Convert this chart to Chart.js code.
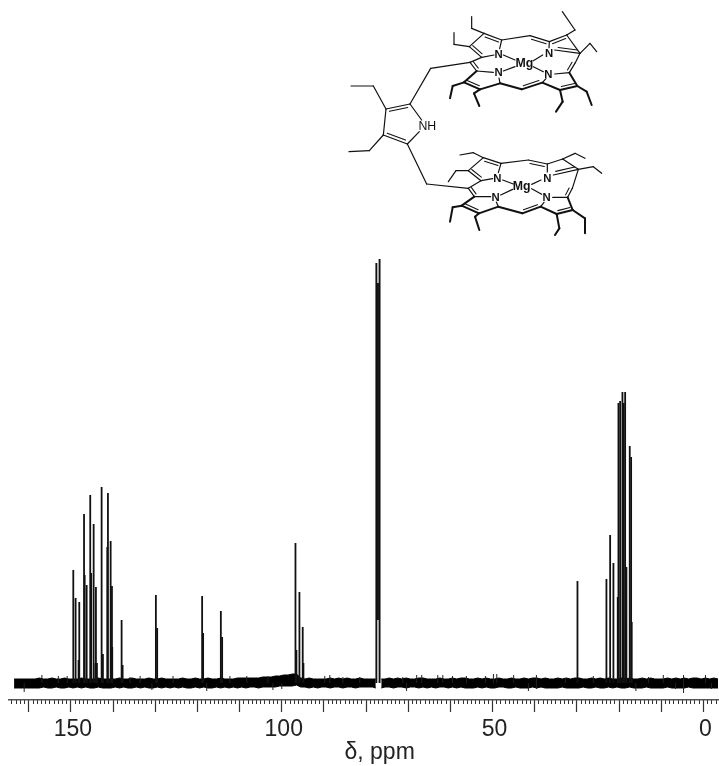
<!DOCTYPE html>
<html>
<head>
<meta charset="utf-8">
<title>13C NMR spectrum</title>
<script src="https://cdn.jsdelivr.net/npm/chart.js@4"></script>
<style>
    body { margin: 0; background: #fff; }
    #wrap { position: relative; width: 719px; height: 766px; overflow: hidden; }
    #spectrum { position: absolute; left: 0; top: 0; filter: blur(0.35px); }
    #molecule { position: absolute; left: 340px; top: 0; pointer-events: none; filter: blur(0.35px); }
    #molecule text { font-family: 'Liberation Sans', sans-serif; fill: #111; text-anchor: middle; dominant-baseline: central; }
</style>
</head>
<body>
<div id="wrap">
    <canvas id="spectrum" width="719" height="766"></canvas>
    <svg id="molecule" width="279" height="245" viewBox="0 0 837 735"></svg>
</div>
<script>
// Axis
const axisLabels = [150, 100, 50, 0];

// Peaks, ppm and height
const peakPpm = [
    149.45, 148.9, 148.2, 148.03, 146.9, 146.75, 146.28, 145.43, 145.2, 144.62, 144.2, 144.08, 143.84,
    142.73, 142.42, 141.39, 141.23, 140.59, 140.28, 140.21, 137.99, 137.75,
    129.86, 129.55, 118.89, 118.65, 114.45, 114.14,
    96.75, 96.52, 95.81, 95.03, 94.86,
    29.86, 22.99, 22.11, 21.33, 20.31, 20.14, 19.74, 19.19, 18.89, 18.55, 18.25, 17.46, 17.13, 16.99
];
const peakHeight = [
    113, 85, 23, 81, 169, 108, 98, 188, 110, 159, 20, 96, 20,
    196, 29, 136, 190, 142, 97, 36, 63, 18,
    88, 55, 87, 50, 72, 46,
    140, 33, 91, 56, 20,
    102, 104, 148, 120, 86, 280, 282, 291, 280, 291, 116, 237, 226, 61
];

// CDCl3 triplet, the middle line does not reach the baseline
const solventPpm = [77.56, 77.18, 76.8];
const solventFloor = [0, 63, 0];
const solventTop = [420, 400, 424];

// Baseline noise envelope
const noisePpm = [
    163.5, 162.5, 161.5, 160.5,
    159.5, 158.5, 157.5, 156.5, 155.5, 154.5, 153.5, 152.5, 151.5, 150.5,
    149.5, 148.5, 147.5, 146.5, 145.5, 144.5, 143.5, 142.5, 141.5, 140.5,
    139.5, 138.5, 137.5, 136.5, 135.5, 134.5, 133.5, 132.5, 131.5, 130.5,
    129.5, 128.5, 127.5, 126.5, 125.5, 124.5, 123.5, 122.5, 121.5, 120.5,
    119.5, 118.5, 117.5, 116.5, 115.5, 114.5, 113.5, 112.5, 111.5, 110.5,
    109.5, 108.5, 107.5, 106.5, 105.5, 104.5, 103.5, 102.5, 101.5, 100.5,
    99.5, 98.5, 97.5, 96.5, 95.5, 94.5, 93.5, 92.5, 91.5, 90.5,
    89.5, 88.5, 87.5, 86.5, 85.5, 84.5, 83.5, 82.5, 81.5, 80.5,
    79.5, 78.5, 77.7, 77.1, 76.4, 75.5, 74.5, 73.5, 72.5, 71.5, 70.5,
    69.5, 68.5, 67.5, 66.5, 65.5, 64.5, 63.5, 62.5, 61.5, 60.5,
    59.5, 58.5, 57.5, 56.5, 55.5, 54.5, 53.5, 52.5, 51.5, 50.5,
    49.5, 48.5, 47.5, 46.5, 45.5, 44.5, 43.5, 42.5, 41.5, 40.5,
    39.5, 38.5, 37.5, 36.5, 35.5, 34.5, 33.5, 32.5, 31.5, 30.5,
    29.5, 28.5, 27.5, 26.5, 25.5, 24.5, 23.5, 22.5, 21.5, 20.5,
    19.5, 18.5, 17.5, 16.5, 15.5, 14.5, 13.5, 12.5, 11.5, 10.5,
    9.5, 8.5, 7.5, 6.5, 5.5, 4.5, 3.5, 2.5, 1.5, 0.5,
    -0.5, -1.5, -2.5, -3.5
];
const noiseUpper = [
    4, 4, 4, 4,
    4, 4, 5, 4, 4, 5, 4, 4, 5, 4,
    4, 4, 5, 4, 4, 4, 5, 4, 4, 4,
    4, 5, 4, 4, 5, 4, 4, 4, 5, 4,
    4, 5, 4, 4, 4, 4, 5, 4, 4, 5,
    4, 4, 5, 4, 4, 5, 4, 4, 4, 5,
    5, 5, 5, 5, 5, 6, 6, 6, 7, 7,
    8, 8, 9, 9, 5, 4, 5, 4, 4, 4,
    4, 5, 4, 5, 4, 5, 4, 4, 5, 4,
    4, 4, 4, null, 4, 4, 5, 4, 5, 4, 5,
    4, 4, 5, 5, 4, 4, 4, 5, 4, 4,
    5, 4, 5, 5, 4, 4, 5, 4, 5, 4,
    4, 5, 4, 4, 5, 4, 4, 5, 4, 5,
    5, 4, 5, 4, 4, 5, 4, 5, 4, 5,
    5, 4, 4, 5, 4, 5, 4, 5, 4, 4,
    5, 4, 5, 4, 4, 5, 4, 5, 4, 4,
    4, 5, 4, 5, 4, 5, 4, 5, 5, 4,
    5, 4, 5, 4
];
const noiseLower = [
    -5, -5, -5, -5,
    -5, -5, -5, -4, -5, -5, -4, -5, -5, -4,
    -5, -4, -5, -4, -5, -5, -4, -5, -5, -5,
    -4, -5, -4, -5, -5, -4, -5, -4, -5, -5,
    -4, -5, -4, -5, -4, -5, -4, -5, -5, -4,
    -5, -4, -5, -5, -4, -5, -4, -5, -4, -5,
    -4, -5, -4, -4, -5, -4, -4, -4, -4, -3,
    -3, -3, -3, -2, -4, -4, -5, -4, -5, -4,
    -4, -5, -4, -4, -5, -4, -4, -5, -4, -4,
    -4, -4, -5, null, -5, -4, -4, -5, -4, -4, -5,
    -4, -4, -5, -4, -5, -4, -5, -4, -4, -5,
    -4, -5, -4, -5, -5, -5, -4, -5, -4, -5,
    -5, -4, -4, -5, -5, -4, -5, -5, -5, -4,
    -5, -4, -5, -5, -5, -5, -4, -5, -5, -5,
    -5, -4, -5, -5, -4, -5, -5, -4, -5, -4,
    -5, -5, -4, -5, -5, -5, -4, -5, -5, -5,
    -5, -4, -5, -5, -5, -5, -4, -5, -5, -5,
    -5, -5, -5, -5
];

// Single noise spikes sticking out of the band
const spikePpm = [
    161.1, 156.9, 153, 150.9, 136, 133.6, 130.8, 125.8, 117.8, 112.3,
    108.3, 103.3, 102.1, 100, 89.8, 88.6, 85.5, 81.5, 71.3, 70.4,
    68, 66.8, 63, 61.8, 59.5, 56.2, 51.7, 49.8, 49, 45,
    41.5, 39.6, 32.7, 26.1, 16, 13, 9.5, 6.6, 4.7, -0.5, -1.9
];
const spikeLow = [
    -9, 0, 0, 0, 0, 0, -7, 0, -8, 0,
    0, 0, -7, -6, 0, 0, 0, 0, 0, -8,
    0, 0, 0, 0, 0, 0, 0, 0, 0, 0,
    -8, -6, 0, 0, -8, 0, 0, -6, -10, 0, -6
];
const spikeHigh = [
    0, 8, 7, 7, 6, 7, 0, 7, 0, 7,
    7, 7, 0, 0, 7, 8, 6, 6, 6, 0,
    8, 8, 8, 8, 7, 7, 7, 9, 9, 8,
    0, 8, 5, 7, 0, 6, 8, 0, 8, 8, 0
];

const INK = '#111';
const PPM_LEFT = 164.7;
const PPM_RIGHT = -3.55;

function renderSpectrum() {
    const ctx = document.getElementById('spectrum').getContext('2d');

    new Chart(ctx, {
        data: {
            datasets: [
                {
                    type: 'bar',
                    data: peakPpm.map((p, i) => ({ x: p, y: peakHeight[i] })),
                    backgroundColor: INK,
                    barThickness: 1.8,
                    inflateAmount: 0,
                    grouped: false
                },
                {
                    type: 'bar',
                    data: solventPpm.map((p, i) => ({ x: p, y: [solventFloor[i], solventTop[i]] })),
                    backgroundColor: INK,
                    barThickness: 1.9,
                    inflateAmount: 0,
                    grouped: false
                },
                {
                    type: 'bar',
                    data: spikePpm.map((p, i) => ({ x: p, y: [spikeLow[i], spikeHigh[i]] })),
                    backgroundColor: '#222',
                    barThickness: 1,
                    inflateAmount: 0,
                    grouped: false
                },
                {
                    type: 'line',
                    data: noisePpm.map((p, i) => ({ x: p, y: noiseUpper[i] })),
                    borderColor: '#000',
                    backgroundColor: '#000',
                    borderWidth: 1,
                    pointRadius: 0,
                    tension: 0,
                    fill: '+1'
                },
                {
                    type: 'line',
                    data: noisePpm.map((p, i) => ({ x: p, y: noiseLower[i] })),
                    borderColor: '#000',
                    borderWidth: 1,
                    pointRadius: 0,
                    tension: 0,
                    fill: false
                }
            ]
        },
        options: {
            responsive: false,
            animation: false,
            layout: { padding: { left: 9, right: 0, top: 0, bottom: 0 } },
            plugins: {
                legend: { display: false },
                tooltip: { enabled: false }
            },
            scales: {
                y: { display: false, min: -17, max: 683 },
                x: {
                    type: 'linear',
                    position: 'bottom',
                    reverse: true,
                    offset: false,
                    min: PPM_RIGHT,
                    max: PPM_LEFT,
                    afterFit: scale => { scale.height = 66; },
                    border: { display: true, color: '#555', width: 1.5 },
                    grid: { drawOnChartArea: false, tickLength: 12, tickColor: '#333', tickWidth: 1.2, offset: false },
                    ticks: {
                        stepSize: 10,
                        includeBounds: false,
                        autoSkip: false,
                        maxRotation: 0,
                        padding: 4,
                        labelOffset: 2,
                        color: '#222',
                        font: { family: "'Liberation Sans', sans-serif", size: 23 },
                        callback: v => (axisLabels.includes(v) ? String(v) : '')
                    },
                    title: {
                        display: true,
                        text: '     δ, ppm',
                        color: '#222',
                        font: { family: "'Liberation Sans', sans-serif", size: 23 },
                        padding: { top: 0, bottom: 0 }
                    }
                },
                xMinor: {
                    type: 'linear',
                    axis: 'x',
                    position: 'bottom',
                    weight: -1,
                    reverse: true,
                    offset: false,
                    min: PPM_RIGHT,
                    max: PPM_LEFT,
                    afterFit: scale => { scale.height = 0; },
                    border: { display: false },
                    grid: { drawOnChartArea: false, tickLength: 4, tickColor: '#333', tickWidth: 1, offset: false },
                    ticks: {
                        stepSize: 1,
                        includeBounds: false,
                        autoSkip: false,
                        maxRotation: 0,
                        callback: () => ''
                    }
                }
            }
        }
    });
}

// Structure drawing, coordinates in a 3x viewBox
const thinBonds = [
    // top porphyrin
    [570,107,485,120], [485,120,432,100], [432,100,388,140], [388,140,425,172], [425,172,390,187], [390,187,410,213],
    [628,125,570,107], [680,105,628,125], [720,160,680,105], [706,188,720,160], [688,218,706,188],
    [425,172,462,165], [485,120,479,146], [410,213,460,217], [480,250,477,234], [607,248,618,236],
    [688,218,644,222], [720,160,644,150], [628,125,627,143],
    [490,165,525,180], [608,165,580,182], [490,213,525,200], [610,215,580,200],
    [432,100,395,85], [395,85,395,50], [388,140,342,133], [342,133,342,98],
    [680,105,705,90], [705,90,667,35], [720,160,750,130], [750,130,770,155],
    // linker and pyrrole
    [390,187,272,205], [272,205,210,312], [210,312,138,327], [138,327,130,405], [130,405,202,432],
    [202,432,238,395], [210,312,245,360], [138,327,100,258], [100,258,33,258], [130,405,88,452], [88,452,27,455],
    [202,432,260,552], [260,552,385,565],
    // bottom porphyrin
    [565,480,483,490], [483,490,430,473], [430,473,385,512], [385,512,423,542], [423,542,385,565], [385,565,403,590],
    [622,492,565,480], [668,477,622,492], [715,508,668,477], [697,565,715,508], [683,592,697,565],
    [423,542,458,536], [483,490,475,518], [403,590,452,590], [475,620,469,606], [602,620,612,607],
    [683,592,638,592], [715,508,640,525], [622,492,622,516],
    [488,540,520,552], [603,540,575,553], [482,585,518,568], [605,583,575,566],
    [430,473,400,458], [400,458,360,465], [385,512,348,512], [348,512,325,545],
    [668,477,705,460], [705,460,735,475], [715,508,760,500], [760,500,785,520]
];
const boldBonds = [
    [410,213,372,247], [372,247,420,268], [420,268,480,250], [480,250,545,268], [545,268,607,248], [607,248,660,270],
    [660,270,712,258], [712,258,688,218],
    [372,247,338,258], [338,258,330,295], [420,268,402,280], [402,280,418,318],
    [660,270,668,305], [668,305,648,335], [712,258,740,275], [740,275,755,315],
    [403,590,365,617], [365,617,417,640], [417,640,475,620], [475,620,547,640], [547,640,602,620], [602,620,650,642],
    [650,642,698,630], [698,630,683,592],
    [365,617,338,622], [338,622,330,665], [417,640,405,650], [405,650,418,690],
    [650,642,658,685], [658,685,645,705], [698,630,735,655], [735,655,735,700]
];
// second stroke of double bonds: x1, y1, x2, y2, inner side x, y
const doubleBonds = [
    [485,120,432,100,430,170], [388,140,425,172,450,130], [390,187,410,213,450,190],
    [628,125,570,107,570,180], [680,105,628,125,670,180], [720,160,644,150,670,130], [706,188,688,218,650,190],
    [372,247,420,268,430,225], [545,268,607,248,570,200], [660,270,712,258,660,225],
    [210,312,138,327,190,390], [130,405,202,432,190,360],
    [483,490,430,473,430,530], [385,512,423,542,445,500], [385,565,403,590,445,565],
    [622,492,565,480,565,550], [715,508,640,525,670,490], [697,565,683,592,640,565],
    [365,617,417,640,420,590], [547,640,602,620,565,570], [650,642,698,630,650,595]
];
const atomLabels = [
    ['N', 476, 162, 'bold', 34], ['N', 627, 158, 'bold', 34], ['N', 476, 217, 'bold', 34], ['N', 625, 222, 'bold', 34],
    ['Mg', 553, 190, 'bold', 37],
    ['N', 472, 535, 'bold', 34], ['N', 622, 533, 'bold', 34], ['N', 467, 590, 'bold', 34], ['N', 620, 592, 'bold', 34],
    ['Mg', 545, 558, 'bold', 37],
    ['NH', 262, 378, 'normal', 37]
];

function drawMolecule() {
    const svg = document.getElementById('molecule');
    const NS = 'http://www.w3.org/2000/svg';

    const addLine = (x1, y1, x2, y2, width) => {
        const line = document.createElementNS(NS, 'line');
        line.setAttribute('x1', x1);
        line.setAttribute('y1', y1);
        line.setAttribute('x2', x2);
        line.setAttribute('y2', y2);
        line.setAttribute('stroke', '#111');
        line.setAttribute('stroke-width', width);
        line.setAttribute('stroke-linecap', 'round');
        svg.appendChild(line);
    };

    thinBonds.forEach(b => addLine(b[0], b[1], b[2], b[3], 3.6));
    boldBonds.forEach(b => addLine(b[0], b[1], b[2], b[3], 6));

    doubleBonds.forEach(([x1, y1, x2, y2, sx, sy]) => {
        const dx = x2 - x1;
        const dy = y2 - y1;
        const len = Math.hypot(dx, dy);
        let nx = -dy / len;
        let ny = dx / len;
        const mx = (x1 + x2) / 2;
        const my = (y1 + y2) / 2;
        if ((sx - mx) * nx + (sy - my) * ny < 0) {
            nx = -nx;
            ny = -ny;
        }
        const trim = 0.12;
        addLine(x1 + dx * trim + nx * 9, y1 + dy * trim + ny * 9,
                x2 - dx * trim + nx * 9, y2 - dy * trim + ny * 9, 3.2);
    });

    atomLabels.forEach(([str, x, y, weight, size]) => {
        const t = document.createElementNS(NS, 'text');
        t.setAttribute('x', x);
        t.setAttribute('y', y);
        t.setAttribute('font-size', size);
        t.setAttribute('font-weight', weight);
        t.textContent = str;
        svg.appendChild(t);
    });
}

renderSpectrum();
drawMolecule();
</script>
</body>
</html>
